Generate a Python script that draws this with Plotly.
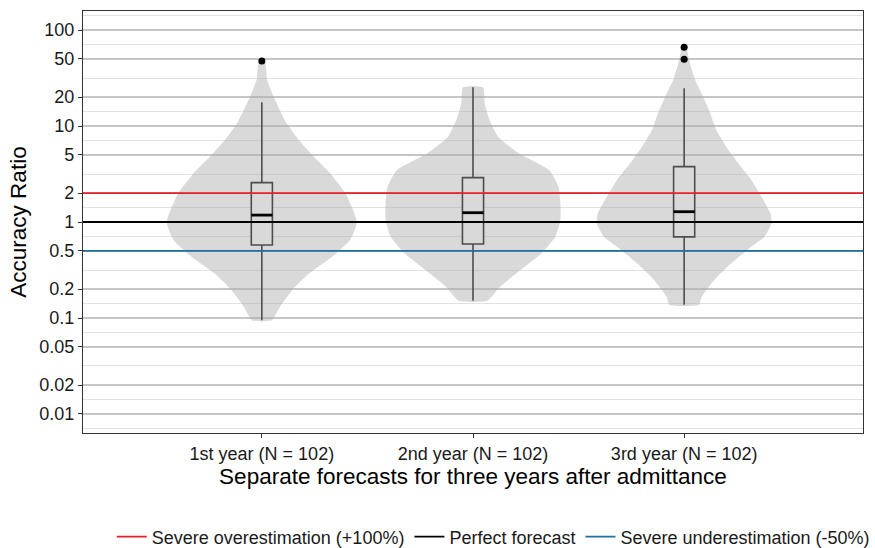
import numpy as np
import plotly.graph_objects as go

# ---------------- data ----------------
categories = ["1st year (N = 102)", "2nd year (N = 102)", "3rd year (N = 102)"]
cat_pos = [1, 2, 3]

# violin outlines: y level and relative density (0..1)
v1_y = [47.5, 30.1, 20.2, 10.7, 7.15, 4.99, 3.21, 1.99, 1.0, 0.65, 0.435, 0.292, 0.196, 0.131, 0.095]
v1_d = [0.03, 0.056, 0.124, 0.26, 0.39, 0.53, 0.72, 0.88, 1.0, 0.93, 0.74, 0.50, 0.32, 0.19, 0.105]

v2_y = [25.3, 17.2, 11.5, 7.74, 5.19, 3.48, 2.33, 1.56, 1.05, 0.703, 0.472, 0.316, 0.212, 0.151]
v2_d = [0.105, 0.124, 0.176, 0.264, 0.48, 0.80, 0.9, 0.92, 0.92, 0.866, 0.72, 0.50, 0.285, 0.148]

v3_y = [66, 61.9, 45, 30.1, 20.2, 13.6, 9.08, 6.09, 4.09, 2.74, 1.84, 1.23, 0.97, 0.703, 0.553, 0.371, 0.249, 0.167, 0.137]
v3_d = [0.02, 0.032, 0.061, 0.116, 0.2, 0.275, 0.338, 0.443, 0.57, 0.707, 0.813, 0.908, 0.919, 0.845, 0.707, 0.496, 0.317, 0.185, 0.158]

violins_y = [v1_y, v2_y, v3_y]
violins_d = [v1_d, v2_d, v3_d]

# box statistics
q1 = [0.575, 0.59, 0.70]
median = [1.18, 1.25, 1.28]
q3 = [2.57, 2.9, 3.77]
lower_whisker = [0.095, 0.151, 0.137]
upper_whisker = [17.7, 25.3, 24.7]
outliers = [[47.5], [], [66, 49.5]]

# reference lines
ref_names = ["Severe overestimation (+100%)", "Perfect forecast", "Severe underestimation (-50%)"]
ref_values = [2, 1, 0.5]
ref_colors = ["#E8202A", "#000000", "#1F6FA5"]

y_breaks = [100, 50, 20, 10, 5, 2, 1, 0.5, 0.2, 0.1, 0.05, 0.02, 0.01]
y_labels = ["100", "50", "20", "10", "5", "2", "1", "0.5", "0.2", "0.1", "0.05", "0.02", "0.01"]

# ---------------- styling ----------------
VIOLIN_WIDTH = 0.9
BOX_WIDTH = 0.1
X_RANGE = [0.153, 3.847]
FONT = "Liberation Sans, Arial, sans-serif"
TICK_SIZE = 18
TITLE_SIZE = 22.5

fig = go.Figure()

# violins
for xc, ys, ds in zip(cat_pos, violins_y, violins_d):
    ys = np.array(ys, dtype=float)
    hw = np.array(ds) * VIOLIN_WIDTH / 2
    xs = np.concatenate([xc + hw, (xc - hw)[::-1], [xc + hw[0]]])
    yy = np.concatenate([ys, ys[::-1], [ys[0]]])
    fig.add_trace(go.Scatter(
        x=xs, y=yy, mode="lines", fill="toself",
        fillcolor="rgba(170,170,170,0.45)",
        line=dict(width=0, shape="spline", smoothing=0.5),
        showlegend=False, hoverinfo="skip"))

# reference lines
for name, val, col in zip(ref_names, ref_values, ref_colors):
    fig.add_trace(go.Scatter(
        x=X_RANGE, y=[val, val], mode="lines", name=name,
        line=dict(color=col, width=1.8), hoverinfo="skip"))

# boxes
for i, xc in enumerate(cat_pos):
    fig.add_trace(go.Box(
        x=[xc], q1=[q1[i]], median=[median[i]], q3=[q3[i]],
        lowerfence=[lower_whisker[i]], upperfence=[upper_whisker[i]],
        width=BOX_WIDTH, whiskerwidth=0, fillcolor="white",
        line=dict(color="#000000", width=1.6),
        showlegend=False, hoverinfo="skip"))
    # thicker median
    fig.add_trace(go.Scatter(
        x=[xc - BOX_WIDTH / 2, xc + BOX_WIDTH / 2], y=[median[i], median[i]],
        mode="lines", line=dict(color="black", width=2.8),
        showlegend=False, hoverinfo="skip"))
    if outliers[i]:
        fig.add_trace(go.Scatter(
            x=[xc] * len(outliers[i]), y=outliers[i], mode="markers",
            marker=dict(color="black", size=7),
            showlegend=False, hoverinfo="skip"))

y_lo = np.log10(min(y_breaks))
y_hi = np.log10(max(y_breaks))
pad = 0.198
b = sorted(y_breaks)
minor_vals = [np.sqrt(b[0] * b[0] / 2)] + [np.sqrt(b[k] * b[k + 1]) for k in range(len(b) - 1)] + [np.sqrt(b[-1] * b[-1] * 2)]

fig.update_layout(
    width=875, height=548,
    margin=dict(l=83, r=12, t=11, b=115, autoexpand=False),
    paper_bgcolor="white", plot_bgcolor="white",
    font=dict(family=FONT, size=TICK_SIZE, color="#1a1a1a"),
    showlegend=True,
    legend=dict(orientation="h", x=0.526, xanchor="center",
                yref="container", y=(548 - 537) / 548, yanchor="middle",
                font=dict(size=TICK_SIZE, color="#1a1a1a"), itemwidth=30,
                traceorder="normal"),
    xaxis=dict(
        range=X_RANGE, tickmode="array", tickvals=cat_pos, ticktext=categories,
        showgrid=False, zeroline=False, automargin=False,
        showline=True, mirror=True, linecolor="#333333", linewidth=1.3,
        ticks="outside", ticklen=4, tickcolor="#333333", tickwidth=1.2,
        tickfont=dict(size=TICK_SIZE, color="#1a1a1a"),
        title=dict(text="Separate forecasts for three years after admittance",
                   font=dict(size=TITLE_SIZE, color="#000000"), standoff=4),
    ),
    yaxis=dict(
        type="log", range=[y_lo - pad, y_hi + pad], automargin=False,
        tickmode="array", tickvals=y_breaks, ticktext=y_labels,
        showgrid=True, gridcolor="#C6C6C6", gridwidth=1.5,
        minor=dict(tickmode="array", tickvals=minor_vals, showgrid=True,
                   gridcolor="#E2E2E2", gridwidth=1.2, ticks=""),
        zeroline=False,
        showline=True, mirror=True, linecolor="#333333", linewidth=1.3,
        ticks="outside", ticklen=4, tickcolor="#333333", tickwidth=1.2,
        tickfont=dict(size=TICK_SIZE, color="#1a1a1a"),
        title=dict(text="Accuracy Ratio", font=dict(size=TITLE_SIZE, color="#000000"), standoff=6),
    ),
)

fig.write_html("out.html")
